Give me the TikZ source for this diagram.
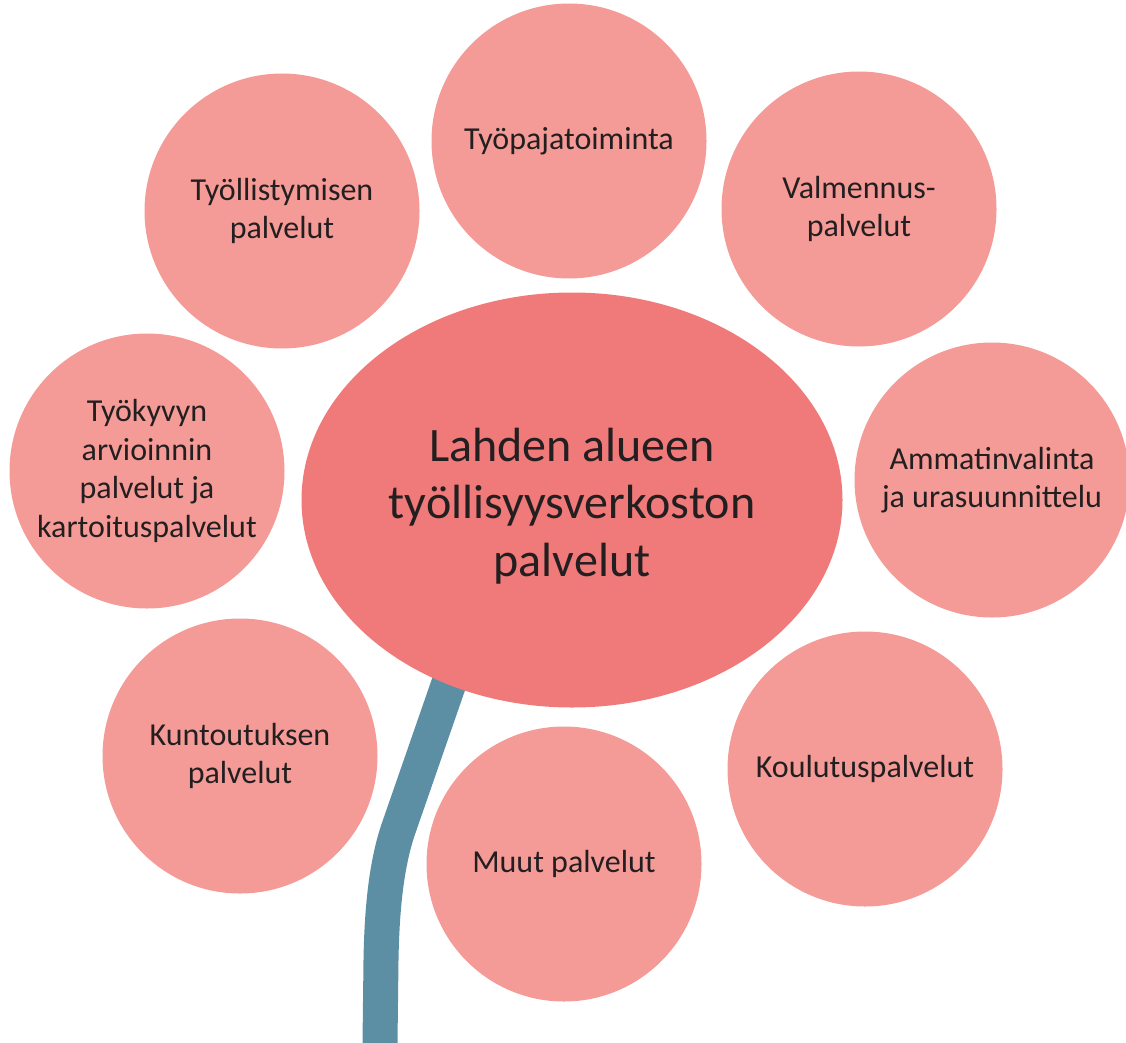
\documentclass[tikz,border=0pt]{standalone}
\usepackage{fontspec}
\setmainfont{Carlito}
\usetikzlibrary{shapes.geometric}
\definecolor{petalred}{HTML}{F59B97}
\definecolor{centerred}{HTML}{F07979}
\definecolor{stemblue}{HTML}{5C8FA3}
\definecolor{textgray}{HTML}{231F20}

\begin{document}
\begin{tikzpicture}
[x=1pt, y=-1pt,
petal/.style={
  circle, fill=petalred, minimum size=275pt, inner sep=0pt,
  align=center, text=textgray,
  font=\fontsize{32}{38.5}\selectfont
  },
hub/.style={
  ellipse, fill=centerred, minimum width=541pt, minimum height=415pt,
  inner sep=0pt, align=center, text=textgray,
  font=\fontsize{48}{57.5}\selectfont
  }
]

\tikzstyle{stem}  =  [line width=35pt, draw=stemblue]

\useasboundingbox (0,0) rectangle (1126,1043);

% stem
\coordinate (s1) at (457,660);
\coordinate (s2) at (380,1043);
\draw[stem] (s1) -- (398,830) .. controls (388,860) and (382,900) .. (381,960) -- (s2);

% centre
\node[hub] (h) at (572,500) {\\[-12pt]Lahden alueen\\työllisyysverkoston\\palvelut};

% petals
\node[petal] (p1) at (569,141) {Työpajatoiminta};
\node[petal] (p2) at (859,209) {Valmennus-\\palvelut};
\node[petal] (p3) at (992,480) {Ammatinvalinta\\ja urasuunnittelu};
\node[petal] (p4) at (865,769) {Koulutuspalvelut};
\node[petal] (p5) at (564,864) {Muut palvelut};
\node[petal] (p6) at (240,756) {Kuntoutuksen\\palvelut};
\node[petal, inner sep=-12pt] (p7) at (147,471) {Työkyvyn\\arvioinnin\\palvelut ja\\kartoituspalvelut};
\node[petal] (p8) at (282,211) {Työllistymisen\\palvelut};

\end{tikzpicture}
\end{document}
